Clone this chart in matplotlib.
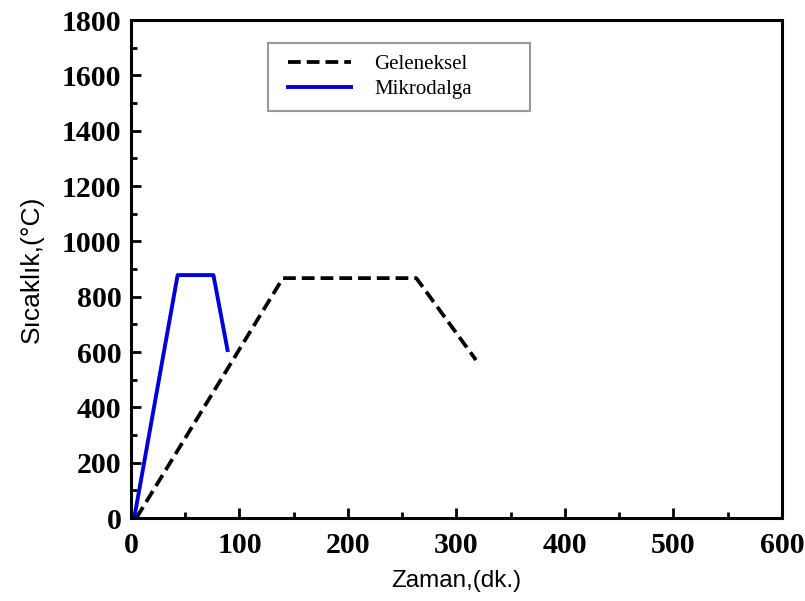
import matplotlib
matplotlib.use("Agg")
import matplotlib.pyplot as plt
from matplotlib.ticker import MultipleLocator
from matplotlib.font_manager import FontProperties
from matplotlib.legend_handler import HandlerLine2D

# Data
gel_x = [5, 140, 263, 318]
gel_y = [0, 867, 867, 571]
mik_x = [3, 43, 76, 89]
mik_y = [0, 878, 878, 607]
series_labels = ["Geleneksel", "Mikrodalga"]
xlabel = "Zaman,(dk.)"
ylabel = "Sıcaklık,(°C)"


class ShiftedLineHandler(HandlerLine2D):
    """Draws the legend line starting a little to the right of the handle box."""
    def __init__(self, shift=6.5, **kw):
        super().__init__(**kw)
        self.shift = shift

    def create_artists(self, legend, orig_handle, xdescent, ydescent,
                       width, height, fontsize, trans):
        return super().create_artists(legend, orig_handle,
                                      xdescent - self.shift, ydescent,
                                      width - self.shift, height,
                                      fontsize, trans)


fig = plt.figure(figsize=(8.05, 6.01), dpi=100)
ax = fig.add_axes([0.1627, 0.1381, 0.8087, 0.8286])

l1, = ax.plot(gel_x, gel_y, color="black", lw=2.7, linestyle=(0, (3.4, 1.6)),
              label=series_labels[0])
l2, = ax.plot(mik_x, mik_y, color="#0000DD", lw=2.8, label=series_labels[1])

ax.set_xlim(0, 600)
ax.set_ylim(0, 1800)
ax.xaxis.set_major_locator(MultipleLocator(100))
ax.xaxis.set_minor_locator(MultipleLocator(50))
ax.yaxis.set_major_locator(MultipleLocator(200))
ax.yaxis.set_minor_locator(MultipleLocator(100))

for s in ax.spines.values():
    s.set_linewidth(2.2)

tick_font = dict(family="Liberation Serif", weight="bold", size=21.5)
ax.tick_params(axis="both", which="major", direction="in", length=7, width=2)
ax.tick_params(axis="both", which="minor", direction="in", length=4, width=2)
ax.tick_params(axis="x", which="major", pad=10)
ax.tick_params(axis="y", which="major", pad=7)
for lab in ax.get_xticklabels() + ax.get_yticklabels():
    lab.set_fontproperties(FontProperties(**tick_font))

ax.set_xlabel(xlabel, labelpad=8, family="Liberation Sans", size=17.5)
ax.set_ylabel(ylabel, labelpad=13, family="Liberation Sans", size=19)

handler = ShiftedLineHandler(shift=6.5)
leg = ax.legend(handles=[l1, l2], loc="upper left",
                bbox_to_anchor=(0.2105, 0.815, 0.4025, 0.139),
                mode="expand", fancybox=False, frameon=True,
                prop=dict(family="Liberation Serif", size=15),
                handlelength=3.45, handletextpad=1.1, labelspacing=0.28,
                borderpad=0.55, borderaxespad=0,
                handler_map={l1: handler, l2: handler})
leg.get_frame().set_edgecolor("#7f7f7f")
leg.get_frame().set_linewidth(1.5)

fig.savefig("out.png", dpi=100)
